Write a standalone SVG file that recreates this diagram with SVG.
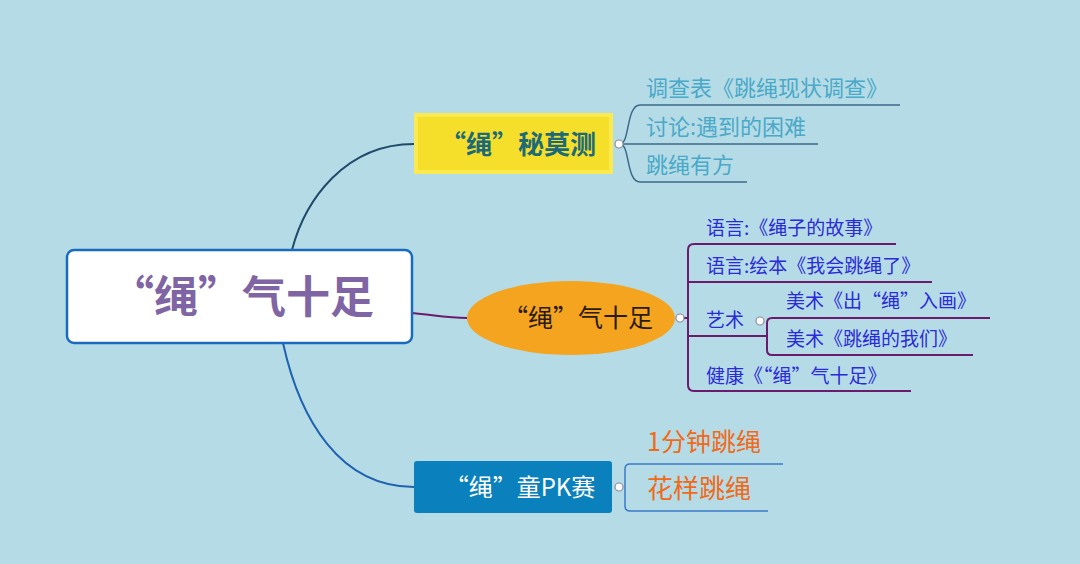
<svg xmlns="http://www.w3.org/2000/svg" width="1080" height="564" viewBox="0 0 1080 564">
<style>
text{font-family:"Noto Sans CJK SC","Noto Sans",sans-serif}
.c1{fill:#4aa8c8;font-size:22px}
.c2{fill:#2b2bd8;font-size:19px}
.c3{fill:#f06a1a}
.dot{fill:#fff;stroke:#8a8aa0;stroke-width:1.2}
.ln{fill:none}
</style>
<rect width="1080" height="564" fill="#b5dce6"/>
<g id="connectors">
<path class="ln" d="M292,250 C305,200 345,144 414,144" stroke="#1f4a6a" stroke-width="2"/>
<path class="ln" d="M412,313 C440,316 450,318 467,318" stroke="#6a1b6e" stroke-width="2"/>
<path class="ln" d="M283,343 C300,420 340,487 414,487" stroke="#1f63b0" stroke-width="2"/>
<g stroke="#3d6a8a" stroke-width="1.5" class="ln">
<path class="ln" d="M620,144 C630,144 626,105 640,105 H900"/>
<path class="ln" d="M620,144 H818"/>
<path class="ln" d="M620,144 C630,144 626,182 640,182 H747"/>
</g>
<g stroke="#6a1b6e" stroke-width="2" class="ln">
<path class="ln" d="M680,318 H688"/>
<path class="ln" d="M896,244 H694 Q688,244 688,250 V385 Q688,391 694,391 H911"/>
<path class="ln" d="M688,282 H932"/>
<path class="ln" d="M688,336 H767"/>
<path class="ln" d="M990,318 H772 Q767,318 767,323 V350 Q767,355 772,355 H973"/>
</g>
<path class="ln" d="M783,464 H630 Q625,464 625,469 V506 Q625,511 630,511 H768" stroke="#3a7ac8" stroke-width="1.5"/>
</g>
<g id="center">
<rect x="67" y="250" width="345" height="93" rx="7" fill="#fff" stroke="#1a6bbf" stroke-width="2.5"/>
<text x="242" y="313" text-anchor="middle" font-size="44" font-weight="bold" fill="#7f65a3">“绳”气十足</text>
</g>
<g id="n1">
<rect x="416" y="115" width="195" height="57" fill="#f5df2a" stroke="#fae94f" stroke-width="4"/>
<text x="518" y="154" text-anchor="middle" font-size="26" font-weight="bold" fill="#1c6a78">“绳”秘莫测</text>
<circle class="dot" cx="619" cy="144" r="4"/>
</g>
<g id="n1a"><text class="c1" x="646" y="96">调查表《跳绳现状调查》</text></g>
<g id="n1b"><text class="c1" x="646" y="135">讨论:遇到的困难</text></g>
<g id="n1c"><text class="c1" x="646" y="173">跳绳有方</text></g>
<g id="n2">
<ellipse cx="571" cy="318" rx="104" ry="37" fill="#f4a41f"/>
<text x="578" y="327" text-anchor="middle" font-size="25" fill="#2a1a10">“绳”气十足</text>
<circle class="dot" cx="680" cy="318" r="4"/>
</g>
<g id="n2a"><text class="c2" x="706" y="235">语言:《绳子的故事》</text></g>
<g id="n2b"><text class="c2" x="706" y="273">语言:绘本《我会跳绳了》</text></g>
<g id="n2c"><text class="c2" x="706" y="327" font-size="16">艺术</text><circle class="dot" cx="760" cy="321" r="4"/></g>
<g id="n2c1"><text class="c2" x="786" y="308">美术《出“绳”入画》</text></g>
<g id="n2c2"><text class="c2" x="786" y="346">美术《跳绳的我们》</text></g>
<g id="n2d"><text class="c2" x="706" y="383">健康《“绳”气十足》</text></g>
<g id="n3">
<rect x="414" y="461" width="198" height="52" rx="3" fill="#0a80bc"/>
<text x="520" y="496" text-anchor="middle" font-size="24" fill="#fff">“绳”童PK赛</text>
<circle class="dot" cx="619" cy="487" r="4"/>
</g>
<g id="n3a"><text class="c3" x="647" y="451" font-size="25">1分钟跳绳</text></g>
<g id="n3b"><text class="c3" x="647" y="498" font-size="26">花样跳绳</text></g>
</svg>
